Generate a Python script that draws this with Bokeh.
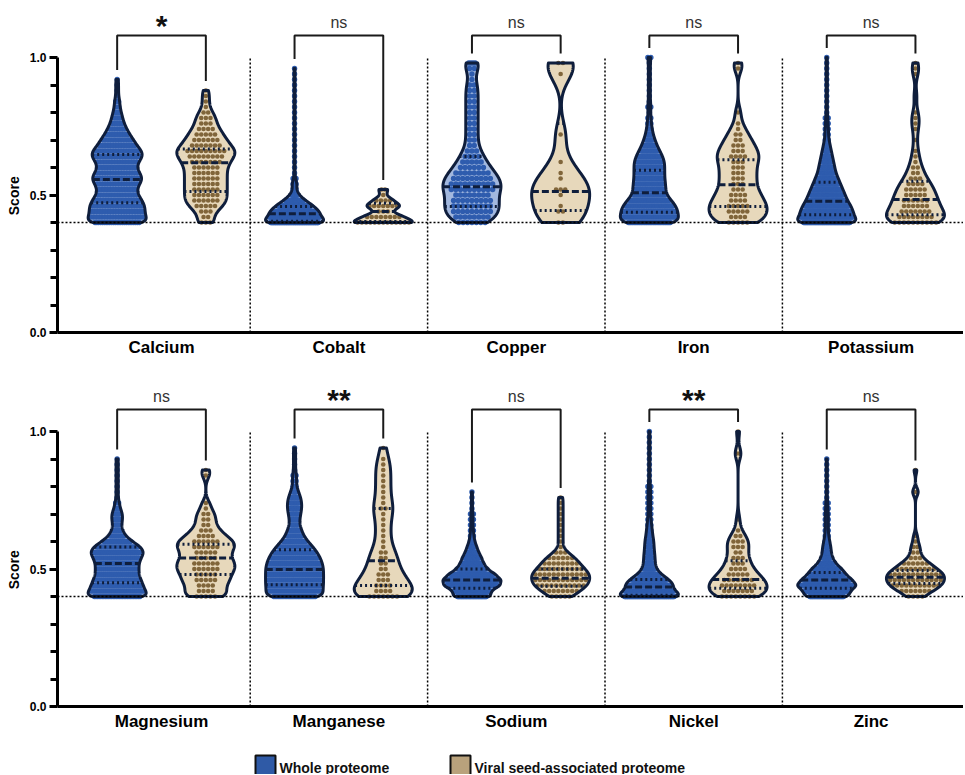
import numpy as np
from bokeh.plotting import figure
from bokeh.layouts import column
from bokeh.models import FixedTicker, PrintfTickFormatter, Range1d, Span
from bokeh.core.properties import value
from bokeh.embed import file_html
from bokeh.resources import INLINE

# ---------------- data ----------------
score_bins = [0.40, 0.42, 0.44, 0.46, 0.48, 0.50, 0.52, 0.54, 0.56, 0.58, 0.60,
              0.62, 0.64, 0.66, 0.68, 0.70, 0.72, 0.74, 0.76, 0.78, 0.80,
              0.82, 0.84, 0.86, 0.88, 0.90, 0.92, 0.94, 0.96, 0.98, 1.00]

elements_top = ["Calcium", "Cobalt", "Copper", "Iron", "Potassium"]
elements_bottom = ["Magnesium", "Manganese", "Sodium", "Nickel", "Zinc"]
significance_top = ["*", "ns", "ns", "ns", "ns"]
significance_bottom = ["ns", "**", "ns", "**", "ns"]
groups = ["Whole proteome", "Viral seed-associated proteome"]

# number of proteins per score bin (bins listed in score_bins)
whole_calcium = [25, 20, 20, 20, 18, 15, 14, 16, 19, 16, 14, 15, 19, 18, 14, 12, 9, 7, 5, 4, 3, 2, 2, 1, 1, 1, 1, 0, 0, 0, 0]
viral_calcium = [3, 2, 3, 5, 6, 6, 6, 6, 6, 6, 6, 7, 8, 9, 7, 6, 5, 4, 3, 3, 2, 1, 1, 1, 1, 0, 0, 0, 0, 0, 0]
whole_cobalt = [75, 58, 55, 42, 24, 10, 4, 6, 2, 1, 1, 1, 1, 1, 1, 1, 1, 1, 1, 1, 1, 1, 1, 1, 1, 1, 1, 1, 1, 0, 0]
viral_cobalt = [13, 8, 3, 7, 4, 1, 2, 0, 0, 0, 0, 0, 0, 0, 0, 0, 0, 0, 0, 0, 0, 0, 0, 0, 0, 0, 0, 0, 0, 0, 0]
whole_copper = [7, 8, 9, 9, 9, 8, 10, 10, 9, 8, 6, 5, 4, 3, 2, 2, 2, 2, 2, 2, 2, 2, 2, 2, 2, 2, 1, 1, 2, 4, 0]
viral_copper = [2, 0, 2, 1, 0, 1, 3, 0, 1, 1, 0, 1, 0, 0, 0, 0, 1, 0, 0, 0, 0, 0, 0, 0, 0, 0, 0, 1, 0, 2, 0]
whole_iron = [34, 30, 30, 28, 23, 18, 17, 17, 16, 16, 16, 16, 14, 11, 8, 6, 4, 3, 2, 2, 1, 2, 1, 1, 1, 1, 1, 1, 1, 1, 2]
viral_iron = [5, 4, 5, 5, 4, 4, 3, 3, 3, 3, 3, 3, 4, 3, 3, 2, 2, 1, 1, 0, 1, 0, 0, 0, 0, 0, 0, 0, 1, 1, 0]
whole_potassium = [58, 48, 46, 42, 36, 32, 28, 24, 20, 16, 14, 12, 10, 8, 6, 4, 3, 3, 2, 2, 1, 1, 1, 1, 1, 1, 1, 1, 1, 1, 1]
viral_potassium = [10, 8, 7, 6, 6, 5, 5, 4, 3, 2, 2, 1, 1, 1, 0, 1, 0, 1, 1, 1, 1, 0, 0, 1, 0, 0, 0, 1, 1, 1, 0]
whole_magnesium = [30, 26, 24, 22, 20, 20, 20, 22, 25, 22, 14, 8, 5, 4, 5, 5, 3, 2, 1, 1, 1, 1, 1, 1, 1, 1, 0, 0, 0, 0, 0]
viral_magnesium = [5, 4, 4, 5, 5, 6, 6, 5, 5, 6, 6, 4, 3, 2, 2, 2, 1, 1, 0, 0, 0, 0, 1, 1, 0, 0, 0, 0, 0, 0, 0]
whole_manganese = [30, 27, 28, 28, 28, 28, 27, 25, 22, 18, 13, 9, 7, 5, 5, 6, 7, 7, 6, 4, 2, 2, 2, 1, 1, 1, 1, 1, 0, 0, 0]
viral_manganese = [7, 4, 4, 3, 3, 2, 2, 2, 2, 1, 1, 1, 1, 1, 1, 1, 2, 1, 1, 1, 1, 1, 1, 1, 1, 1, 0, 1, 0, 0, 0]
whole_sodium = [40, 38, 58, 60, 48, 32, 24, 20, 14, 10, 6, 4, 3, 2, 2, 2, 1, 1, 1, 1, 0, 0, 0, 0, 0, 0, 0, 0, 0, 0, 0]
viral_sodium = [5, 8, 11, 12, 12, 10, 8, 6, 3, 1, 1, 1, 1, 1, 1, 1, 1, 1, 1, 0, 0, 0, 0, 0, 0, 0, 0, 0, 0, 0, 0]
whole_nickel = [75, 36, 45, 36, 20, 12, 10, 10, 9, 8, 8, 6, 5, 4, 3, 2, 2, 2, 2, 2, 2, 1, 1, 1, 1, 1, 1, 1, 1, 1, 1]
viral_nickel = [8, 7, 8, 7, 5, 4, 3, 3, 2, 3, 3, 2, 1, 0, 1, 0, 0, 0, 0, 0, 0, 0, 0, 0, 0, 0, 2, 0, 0, 0, 1]
whole_zinc = [44, 46, 60, 50, 38, 30, 18, 12, 9, 8, 6, 4, 3, 3, 3, 3, 2, 2, 1, 1, 1, 1, 1, 1, 1, 1, 0, 0, 0, 0, 0]
viral_zinc = [4, 7, 11, 12, 12, 9, 6, 3, 2, 2, 1, 1, 0, 0, 0, 0, 0, 0, 0, 2, 0, 0, 0, 1, 0, 0, 0, 0, 0, 0, 0]

# quartiles (Q1, median, Q3) in element order: top row then bottom row
whole_q1 = [0.472, 0.405, 0.458, 0.437, 0.428, 0.450, 0.443, 0.430, 0.405, 0.430]
whole_med = [0.556, 0.432, 0.530, 0.508, 0.477, 0.520, 0.498, 0.460, 0.435, 0.460]
whole_q3 = [0.647, 0.458, 0.640, 0.590, 0.546, 0.580, 0.570, 0.500, 0.462, 0.487]
viral_q1 = [0.513, 0.404, 0.444, 0.458, 0.428, 0.480, 0.440, 0.437, 0.430, 0.447]
viral_med = [0.617, 0.440, 0.513, 0.537, 0.484, 0.540, 0.530, 0.466, 0.462, 0.470]
viral_q3 = [0.667, 0.470, 0.760, 0.628, 0.550, 0.590, 0.720, 0.500, 0.530, 0.495]

# ---------------- styling ----------------
FONT = "Liberation Sans"
WHOLE_PT = "#2e5cae"
WHOLE_FILL = "#a2b8df"
VIRAL_PT = "#80653a"
VIRAL_FILL = "#e7d8bb"
NAVY = "#0f1e3c"
WHOLE_LEG = "#2f5aa6"
VIRAL_LEG = "#b9a27c"

PX = 1 / 177.4          # data units per horizontal pixel
HALF = 29 * PX          # max half-width of a violin
OFF = 0.25              # offset of each group from category centre
FRAME_L, FRAME_R = 57, 963
X0, X1 = (FRAME_L - 161) * PX, (FRAME_R - 161) * PX
Y1 = 324 / 275
NBSP = "\u00a0"


def violin_shape(counts):
    y = np.array(score_bins)
    c = np.array(counts, float)
    m = c > 0
    yv, cv = y[m], c[m]
    n = cv.sum()
    mean = (yv * cv).sum() / n
    sd = np.sqrt((cv * (yv - mean) ** 2).sum() / (n - 1))
    bw = max(0.011, 0.4 * 1.06 * sd * n ** -0.2)
    g = np.linspace(yv.min(), yv.max(), 260)
    dens = (cv[None, :] * np.exp(-0.5 * ((g[:, None] - yv[None, :]) / bw) ** 2)).sum(1)
    return g, dens / dens.max() * HALF


def dot_layout(counts, g, hw, cx):
    xs, ys = [], []
    for yk, n in zip(score_bins, counts):
        if n == 0:
            continue
        h_px = np.interp(yk, g, hw) / PX
        avail = max(h_px - 2.5, 1.5)
        sp = 4.6
        if n > 1 and (n - 1) * sp / 2 > avail:
            sp = 2 * avail / (n - 1)
        for j in range(n):
            xs.append(cx + (j - (n - 1) / 2) * sp * PX)
            ys.append(yk)
    return xs, ys


def draw_violin(p, counts, cx, q1, med, q3, fill, pt, dot):
    g, hw = violin_shape(counts)
    xs = np.concatenate([cx + hw, (cx - hw)[::-1]])
    ys = np.concatenate([g, g[::-1]])
    p.patch(xs, ys, fill_color=fill, line_color=None)
    dx, dy = dot_layout(counts, g, hw, cx)
    p.scatter(dx, dy, size=dot, fill_color=pt, line_color=None, marker="circle")
    for q, dash in ((q1, "2 3"), (q3, "2 3"), (med, "7 3")):
        h = np.interp(q, g, hw)
        p.segment(x0=[cx - h], x1=[cx + h], y0=[q], y1=[q], line_color=NAVY,
                  line_width=3, line_dash=dash)
    p.patch(xs, ys, fill_color=None, line_color=NAVY, line_width=3, line_join="round")
    return g.max()


def build_row(names, sigs, whole_sets, viral_sets, offset, height, top_border, bottom_border):
    p = figure(width=FRAME_R, height=height, title=None,
               x_range=Range1d(X0, X1), y_range=Range1d(0, Y1),
               output_backend="svg", toolbar_location=None,
               min_border_left=FRAME_L, min_border_right=0, min_border_top=top_border,
               min_border_bottom=bottom_border)
    p.outline_line_color = None
    p.grid.visible = False
    p.background_fill_color = "white"
    p.border_fill_color = "white"

    # reference lines
    p.add_layout(Span(location=0.4, dimension="width", line_color="black",
                      line_width=1.3, line_dash="2 2"))
    seps = [i + 0.5 for i in range(len(names) - 1)]
    p.segment(x0=seps, x1=seps, y0=[0] * len(seps), y1=[1.0] * len(seps),
              line_color="black", line_width=1.5, line_dash="2 2")

    for i, name in enumerate(names):
        k = offset + i
        wmax = draw_violin(p, whole_sets[i], i - OFF, whole_q1[k], whole_med[k], whole_q3[k],
                           WHOLE_FILL, WHOLE_PT, 5.4)
        vmax = draw_violin(p, viral_sets[i], i + OFF, viral_q1[k], viral_med[k], viral_q3[k],
                           VIRAL_FILL, VIRAL_PT, 4.6)
        p.line([i - OFF, i - OFF, i + OFF, i + OFF],
               [wmax + 0.035, 1.08, 1.08, vmax + 0.035],
               line_color="#1a1a1a", line_width=2)
        s = sigs[i]
        if s == "ns":
            p.text(x=[i], y=[1.129], text=[s], text_align="center",
                   text_baseline="alphabetic", text_font=value(FONT),
                   text_font_size="16px", text_color="#333333")
        else:
            p.text(x=[i], y=[1.117], text=[s], text_align="center",
                   text_baseline="alphabetic", text_font=value(FONT),
                   text_font_size="30px", text_font_style="bold", text_color="#111111")

    xa = p.xaxis[0]
    xa.ticker = FixedTicker(ticks=list(range(len(names))))
    xa.major_label_overrides = {i: n for i, n in enumerate(names)}
    xa.major_tick_line_color = None
    xa.minor_tick_line_color = None
    xa.major_tick_out = 0
    xa.major_tick_in = 0
    xa.minor_tick_out = 0
    xa.minor_tick_in = 0
    xa.axis_line_width = 3
    xa.axis_line_color = "black"
    xa.major_label_text_font = FONT
    xa.major_label_text_font_size = "17px"
    xa.major_label_text_font_style = "bold"
    xa.major_label_text_color = "black"
    xa.major_label_standoff = 5

    ya = p.yaxis[0]
    ya.ticker = FixedTicker(ticks=[0.0, 0.5, 1.0],
                            minor_ticks=[0.1, 0.2, 0.3, 0.4, 0.6, 0.7, 0.8, 0.9])
    ya.bounds = (0, 1)
    ya.formatter = PrintfTickFormatter(format="%.1f")
    ya.axis_line_width = 3
    ya.axis_line_color = "black"
    ya.major_tick_out = 8
    ya.major_tick_in = 0
    ya.minor_tick_out = 7
    ya.minor_tick_in = 0
    ya.major_tick_line_width = 3
    ya.minor_tick_line_width = 3
    ya.major_label_text_font = FONT
    ya.major_label_text_font_size = "12px"
    ya.major_label_text_font_style = "bold"
    ya.major_label_text_color = "black"
    ya.major_label_standoff = 3
    # trailing no-break spaces move the centred title down to the middle of 0..1
    ya.axis_label = "Score" + NBSP * 13
    ya.axis_label_text_font = FONT
    ya.axis_label_text_font_size = "14px"
    ya.axis_label_text_font_style = "bold"
    ya.axis_label_text_color = "black"
    ya.axis_label_standoff = 5
    return p


top = build_row(elements_top, significance_top,
                [whole_calcium, whole_cobalt, whole_copper, whole_iron, whole_potassium],
                [viral_calcium, viral_cobalt, viral_copper, viral_iron, viral_potassium],
                0, 382, 8, 50)
bottom = build_row(elements_bottom, significance_bottom,
                   [whole_magnesium, whole_manganese, whole_sodium, whole_nickel, whole_zinc],
                   [viral_magnesium, viral_manganese, viral_sodium, viral_nickel, viral_zinc],
                   5, 356, 0, 32)

# legend strip (frame is aligned with the plots above, so x is in page pixels)
lg = figure(width=FRAME_R, height=36, title=None, x_range=Range1d(FRAME_L, FRAME_R),
            y_range=Range1d(0, 36), x_axis_type=None, y_axis_type=None,
            output_backend="svg", toolbar_location=None,
            min_border=0, min_border_left=FRAME_L, min_border_right=0)
lg.outline_line_color = None
lg.grid.visible = False
lg.quad(left=[255, 450], right=[275, 470], bottom=[-1, -1], top=[19, 19],
        fill_color=[WHOLE_LEG, VIRAL_LEG], line_color="#111111", line_width=2)
lg.text(x=[279, 474], y=[7, 7], text=groups, text_baseline="middle",
        text_font=value(FONT), text_font_size="14px", text_font_style="bold",
        text_color="#111111")

layout = column(top, bottom, lg, spacing=0)
open("out.html", "w").write(file_html(layout, INLINE))
